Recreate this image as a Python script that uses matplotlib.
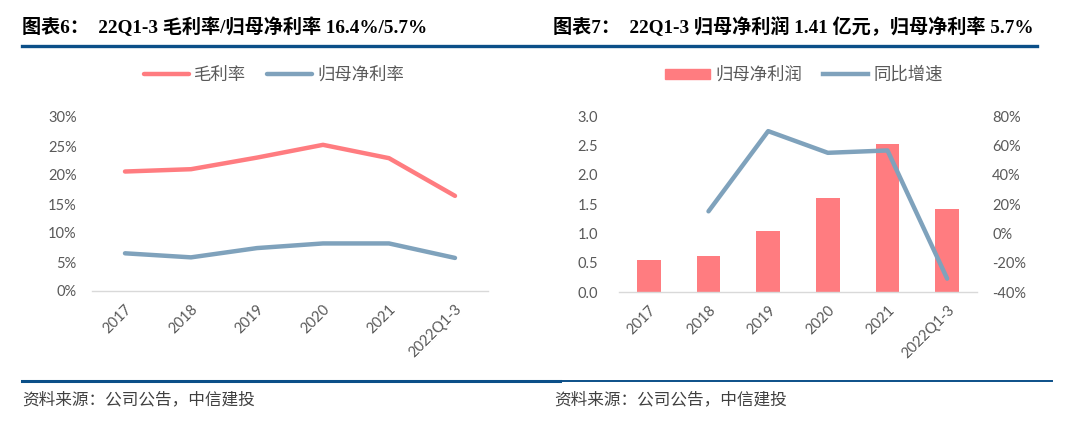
import numpy as np
import matplotlib

matplotlib.use("Agg")
import matplotlib.pyplot as plt
from matplotlib.lines import Line2D
from matplotlib.patches import Patch

# data
years = ["2017", "2018", "2019", "2020", "2021", "2022Q1-3"]
gross_margin = [20.6, 21.0, 23.0, 25.2, 22.9, 16.4]  # %
net_margin = [6.5, 5.8, 7.4, 8.2, 8.2, 5.7]  # %
net_profit = [0.54, 0.62, 1.04, 1.61, 2.52, 1.41]  # 亿元
profit_growth = [np.nan, 15.0, 69.7, 54.9, 56.5, -30.9]  # %

RED = "#ff7c80"
BLUE = "#7fa2bc"
NAVY = "#0b4f88"
GREY = "#595959"
W, H = 1080, 429

plt.rcParams["font.family"] = ["Lato", "Noto Sans CJK SC", "DejaVu Sans"]
title_font = ["Liberation Serif", "Noto Sans CJK SC"]
cjk_font = ["Noto Sans CJK SC", "DejaVu Sans"]

fig = plt.figure(figsize=(W / 100, H / 100), dpi=100)


def px_axes(x0, y_top, x1, y_bot):
    return fig.add_axes([x0 / W, (H - y_bot) / H, (x1 - x0) / W, (y_bot - y_top) / H])


def style_axes(ax, ypad):
    for side in ("top", "left", "right"):
        ax.spines[side].set_visible(False)
    ax.spines["bottom"].set_color("#d9d9d9")
    ax.spines["bottom"].set_linewidth(1.0)
    ax.tick_params(length=0, colors=GREY, labelsize=10.5)
    ax.tick_params(axis="y", pad=ypad)
    ax.set_xlim(-0.5, len(years) - 0.5)
    ax.set_xticks(range(len(years)))
    ax.set_xticklabels(years, rotation=45, ha="right", rotation_mode="anchor")
    ax.tick_params(axis="x", pad=8)


legend_kw = dict(
    loc="center", ncol=2, frameon=False, prop={"family": cjk_font, "size": 12.5},
    labelcolor=GREY, handlelength=2.6, handletextpad=0.3, columnspacing=1.2,
    handleheight=0.5,
)

x = np.arange(len(years))

# ---- left chart: margins
ax1 = px_axes(92, 117, 488, 291)
ax1.plot(x, gross_margin, color=RED, lw=3.2, solid_capstyle="round", label="毛利率")
ax1.plot(x, net_margin, color=BLUE, lw=3.2, solid_capstyle="round", label="归母净利率")
ax1.set_ylim(0, 30)
ax1.set_yticks(range(0, 31, 5))
ax1.set_yticklabels([f"{v}%" for v in range(0, 31, 5)])
style_axes(ax1, 11)
ax1.legend(bbox_to_anchor=(274 / W, (H - 75) / H), bbox_transform=fig.transFigure,
           **legend_kw)

# ---- right chart: net profit + growth
ax2 = px_axes(619, 116, 977, 292)
ax2.bar(x, net_profit, width=0.4, color=RED, label="归母净利润")
ax2.set_ylim(0, 3.0)
ax2.set_yticks(np.arange(0, 3.01, 0.5))
ax2.set_yticklabels([f"{v:.1f}" for v in np.arange(0, 3.01, 0.5)])
style_axes(ax2, 15)

ax3 = ax2.twinx()
ax3.plot(x, profit_growth, color=BLUE, lw=3.2, solid_capstyle="round", label="同比增速")
ax3.set_ylim(-40, 80)
ax3.set_yticks(range(-40, 81, 20))
ax3.set_yticklabels([f"{v}%" for v in range(-40, 81, 20)])
for side in ("top", "left", "right", "bottom"):
    ax3.spines[side].set_visible(False)
ax3.tick_params(length=0, colors=GREY, labelsize=10.5, pad=11)

handles = [Patch(color=RED), Line2D([0], [0], color=BLUE, lw=3.2)]
fig.legend(handles, ["归母净利润", "同比增速"],
           bbox_to_anchor=(804 / W, (H - 75) / H), **legend_kw)

# ---- titles, rules and sources
fig.text(22 / W, (H - 27) / H, "图表6：  22Q1-3 毛利率/归母净利率 16.4%/5.7%",
         family=title_font, weight="bold", fontsize=13.8, va="center", color="black")
fig.text(553 / W, (H - 27) / H, "图表7：  22Q1-3 归母净利润 1.41 亿元，归母净利率 5.7%",
         family=title_font, weight="bold", fontsize=13.8, va="center", color="black")

fig.add_artist(Line2D([22 / W, 1037 / W], [(H - 46) / H] * 2, color=NAVY, lw=2.4))
fig.add_artist(Line2D([22 / W, 560 / W], [(H - 381) / H] * 2, color=NAVY, lw=2.2))
fig.add_artist(Line2D([560 / W, 1052 / W], [(H - 381) / H] * 2, color=NAVY, lw=1.4))

for xs in (22, 554):
    fig.text(xs / W, (H - 400) / H, "资料来源：公司公告，中信建投", family=cjk_font,
             fontsize=12, va="center", color="#404040", style="italic")

fig.savefig("out.png", dpi=100)
